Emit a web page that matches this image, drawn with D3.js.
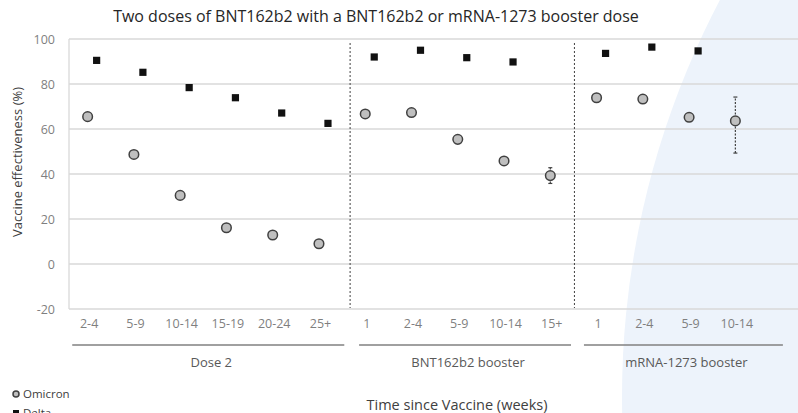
<!DOCTYPE html>
<html>
<head>
<meta charset="utf-8">
<script src="https://cdn.jsdelivr.net/npm/d3@7"></script>
<style>
  html, body { margin: 0; padding: 0; background: #fff; }
  svg { display: block; font-family: "Open Sans", sans-serif; }
</style>
</head>
<body>
<div id="chart"></div>
<script>
// chart values
const categories = ["2-4", "5-9", "10-14", "15-19", "20-24", "25+",
                    "1", "2-4", "5-9", "10-14", "15+",
                    "1", "2-4", "5-9", "10-14"];
const groups = ["Dose 2", "BNT162b2 booster", "mRNA-1273 booster"];
const groupSizes = [6, 5, 4];
const omicron = [65.5, 48.7, 30.5, 16.1, 12.9, 9.0,
                 66.7, 67.3, 55.4, 45.8, 39.3,
                 73.9, 73.3, 65.2, 63.6];
const delta = [90.5, 85.2, 78.4, 73.9, 67.1, 62.5,
               92.0, 95.0, 91.7, 89.8, null,
               93.6, 96.4, 94.7, null];
const omicronLower = [null, null, null, null, null, null,
                      null, null, null, null, 35.8,
                      null, null, null, 49.3];
const omicronUpper = [null, null, null, null, null, null,
                      null, null, null, null, 42.8,
                      null, null, null, 74.2];
const yTicks = [-20, 0, 20, 40, 60, 80, 100];

const width = 798, height = 413;
const plotLeft = 69, plotTop = 39, plotBottom = 309;

const svg = d3.select("#chart").append("svg")
  .attr("width", width)
  .attr("height", height);

// slide background shape
svg.append("circle")
  .attr("cx", 1476).attr("cy", 397).attr("r", 854)
  .attr("fill", "#edf3fb");

const x = d3.scaleBand()
  .domain(d3.range(categories.length))
  .range([plotLeft, 763]);
const cx = i => x(i) + x.bandwidth() / 2;
const xi = d3.scaleLinear().domain([0, categories.length]).range([plotLeft, 763]);

const y = d3.scaleLinear().domain([-20, 100]).range([plotBottom, plotTop]);

// gridlines
svg.append("g").selectAll("line")
  .data(yTicks)
  .enter().append("line")
  .attr("x1", plotLeft).attr("x2", width)
  .attr("y1", d => y(d)).attr("y2", d => y(d))
  .attr("stroke", "#d9d9d9")
  .attr("stroke-width", 1.3);

svg.append("line")
  .attr("x1", plotLeft).attr("x2", plotLeft)
  .attr("y1", y(100)).attr("y2", y(-20))
  .attr("stroke", "#d9d9d9")
  .attr("stroke-width", 1.3);

// y tick labels
svg.append("g").selectAll("text")
  .data(yTicks)
  .enter().append("text")
  .attr("x", 55)
  .attr("y", d => y(d) + 4.5)
  .attr("text-anchor", "end")
  .attr("font-size", "12.5px")
  .attr("fill", "#7f7f7f")
  .text(d => d);

// group separators
const bounds = d3.cumsum(groupSizes);
svg.append("g").selectAll("line")
  .data([bounds[0], bounds[1]])
  .enter().append("line")
  .attr("x1", (d, i) => xi(d) + (i === 0 ? 3.5 : -3.5))
  .attr("x2", (d, i) => xi(d) + (i === 0 ? 3.5 : -3.5))
  .attr("y1", 43).attr("y2", 308)
  .attr("stroke", "#404040")
  .attr("stroke-width", 1)
  .attr("stroke-dasharray", "2,2");

// x tick labels
svg.append("g").selectAll("text")
  .data(categories)
  .enter().append("text")
  .attr("x", (d, i) => cx(i) - 3)
  .attr("y", 328)
  .attr("text-anchor", "middle")
  .attr("font-size", "12.5px")
  .attr("fill", "#7f7f7f")
  .text(d => d);

// group brackets
const starts = [0, bounds[0], bounds[1]];
const spans = [[0.07, -0.05], [0.27, -0.15], [0.13, 0.43]];
groups.forEach((g, k) => {
  const x1 = xi(starts[k] + spans[k][0]);
  const x2 = xi(starts[k] + groupSizes[k] + spans[k][1]);
  svg.append("line")
    .attr("x1", x1).attr("x2", x2)
    .attr("y1", 345).attr("y2", 345)
    .attr("stroke", "#808080")
    .attr("stroke-width", 1.3);
  svg.append("text")
    .attr("x", (x1 + x2) / 2 + 3)
    .attr("y", 367)
    .attr("text-anchor", "middle")
    .attr("font-size", "13px")
    .attr("fill", "#595959")
    .text(g);
});

// error bars
const errIdx = d3.range(omicron.length).filter(i => omicronLower[i] != null);
const err = svg.append("g");
errIdx.forEach(i => {
  const ex = cx(i) - 4.5;
  err.append("line")
    .attr("x1", ex).attr("x2", ex)
    .attr("y1", y(omicronLower[i])).attr("y2", y(omicronUpper[i]))
    .attr("stroke", "#404040").attr("stroke-width", 1.2)
    .attr("stroke-dasharray", "2,1.5");
  [omicronLower[i], omicronUpper[i]].forEach(v => {
    err.append("line")
      .attr("x1", ex - 2).attr("x2", ex + 2)
      .attr("y1", y(v)).attr("y2", y(v))
      .attr("stroke", "#404040").attr("stroke-width", 1.2);
  });
});

// Delta squares
svg.append("g").selectAll("rect")
  .data(delta.map((v, i) => ({v, i})).filter(d => d.v != null))
  .enter().append("rect")
  .attr("x", d => cx(d.i) + 4.5 - 3.6)
  .attr("y", d => y(d.v) - 3.6)
  .attr("width", 7.2).attr("height", 7.2)
  .attr("fill", "#111");

// Omicron circles
svg.append("g").selectAll("circle")
  .data(omicron.map((v, i) => ({v, i})))
  .enter().append("circle")
  .attr("cx", d => cx(d.i) - 4.5)
  .attr("cy", d => y(d.v))
  .attr("r", 4.8)
  .attr("fill", "#bfbfbf")
  .attr("stroke", "#404040")
  .attr("stroke-width", 1.5);

// title
svg.append("text")
  .attr("x", 376).attr("y", 22)
  .attr("text-anchor", "middle")
  .attr("font-size", "16px")
  .attr("fill", "#262626")
  .text("Two doses of BNT162b2 with a BNT162b2 or mRNA-1273 booster dose");

// y axis title
svg.append("text")
  .attr("transform", "translate(22,162) rotate(-90)")
  .attr("text-anchor", "middle")
  .attr("font-size", "13px")
  .attr("fill", "#404040")
  .text("Vaccine effectiveness (%)");

// x axis title
svg.append("text")
  .attr("x", 457).attr("y", 410)
  .attr("text-anchor", "middle")
  .attr("font-size", "14.5px")
  .attr("fill", "#404040")
  .text("Time since Vaccine (weeks)");

// legend
const legend = svg.append("g");
legend.append("circle")
  .attr("cx", 16).attr("cy", 394).attr("r", 3)
  .attr("fill", "#bfbfbf").attr("stroke", "#404040").attr("stroke-width", 1.5);
legend.append("text")
  .attr("x", 23).attr("y", 398)
  .attr("font-size", "11.5px").attr("fill", "#404040")
  .text("Omicron");
legend.append("rect")
  .attr("x", 13).attr("y", 410).attr("width", 6).attr("height", 6)
  .attr("fill", "#111");
legend.append("text")
  .attr("x", 23).attr("y", 417)
  .attr("font-size", "11.5px").attr("fill", "#404040")
  .text("Delta");
</script>
</body>
</html>
